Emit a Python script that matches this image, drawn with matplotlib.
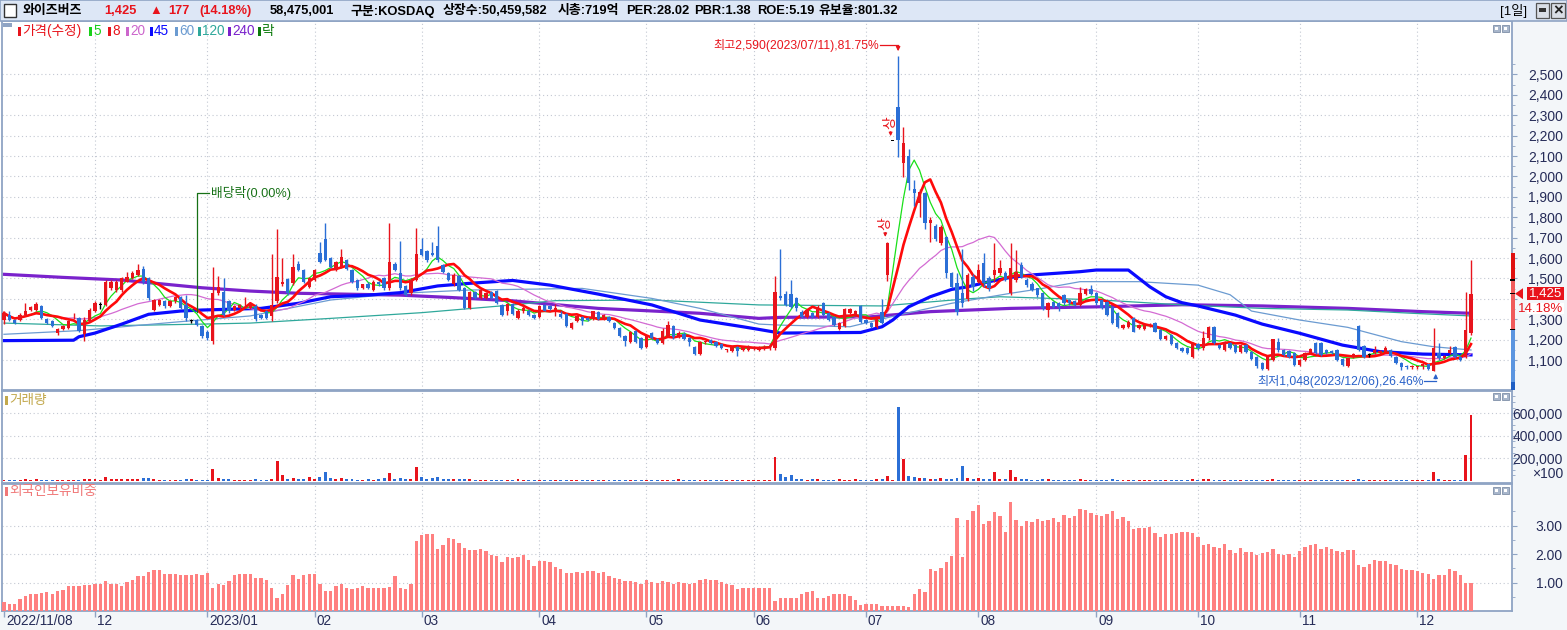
import numpy as np
import pandas as pd
import matplotlib
matplotlib.use('Agg')
import matplotlib.pyplot as plt
from matplotlib.patches import Rectangle, Polygon
from matplotlib.transforms import blended_transform_factory, ScaledTranslation

plt.rcParams['font.family'] = ['Liberation Sans', 'Noto Sans CJK KR', 'DejaVu Sans']

# ---- daily candles, 2022/11/08 .. 2023/12/14 ----
opens = [
    1298, 1322, 1298, 1298, 1322, 1347, 1347, 1363, 1303, 1293,
    1234, 1250, 1258, 1314, 1306, 1226, 1290, 1339, 1371, 1371,
    1452, 1443, 1443, 1484, 1500, 1516, 1548, 1500, 1347, 1371,
    1387, 1363, 1387, 1410, 1371, 1290, 1298, 1266, 1239, 1193,
    1427, 1435, 1387, 1347, 1355, 1363, 1355, 1363, 1320, 1340,
    1314, 1387, 1471, 1496, 1476, 1573, 1540, 1460, 1492, 1626,
    1694, 1601, 1540, 1556, 1589, 1540, 1492, 1452, 1475, 1443,
    1484, 1500, 1452, 1573, 1525, 1464, 1427, 1492, 1645, 1632,
    1625, 1661, 1564, 1527, 1471, 1511, 1452, 1355, 1435, 1406,
    1403, 1435, 1440, 1371, 1338, 1375, 1306, 1338, 1342, 1321,
    1310, 1370, 1364, 1345, 1326, 1326, 1256, 1290, 1313, 1305,
    1302, 1334, 1302, 1310, 1280, 1256, 1220, 1190, 1240, 1210,
    1162, 1233, 1205, 1183, 1220, 1265, 1212, 1228, 1208, 1162,
    1130, 1187, 1198, 1190, 1180, 1150, 1144, 1162, 1149, 1150, 1152,
    1150, 1160, 1158,
    1157, 1414, 1423, 1423, 1402, 1337, 1312, 1329, 1312, 1378,
    1329, 1312, 1250, 1267, 1329, 1321, 1365, 1296, 1280, 1263,
    1337, 1517, 2174, 2341, 2064, 2100, 1936, 1868, 1917, 1770,
    1757, 1672, 1701, 1525, 1476, 1427, 1397, 1509, 1484, 1574,
    1500, 1517, 1525, 1525,
    1427, 1492, 1565, 1492, 1475, 1451, 1427, 1345, 1386, 1378,
    1418, 1394, 1390, 1370, 1425, 1446, 1430, 1394, 1386, 1361,
    1329, 1255, 1263, 1308, 1255, 1253, 1265, 1280, 1247, 1202,
    1222, 1184, 1160, 1157, 1116, 1176, 1157, 1206, 1263, 1174,
    1149, 1184, 1174, 1140, 1174, 1141, 1116, 1084, 1055, 1100,
    1190, 1149, 1144, 1136, 1076, 1100, 1133, 1185, 1185, 1149,
    1146, 1149, 1103, 1072, 1116, 1267, 1169, 1125, 1133, 1133,
    1141, 1149, 1113, 1084, 1072, 1066, 1066, 1070, 1078, 1048,
    1133, 1112, 1133, 1165, 1116, 1116, 1231,
]
highs = [
    1338, 1340, 1300, 1330, 1379, 1365, 1385, 1370, 1306, 1298,
    1255, 1270, 1298, 1330, 1310, 1310, 1355, 1390, 1385, 1490,
    1490, 1490, 1508, 1530, 1535, 1573, 1560, 1505, 1400, 1400,
    1395, 1395, 1415, 1415, 1420, 1300, 1300, 1270, 1245, 1556,
    1510, 1500, 1395, 1370, 1375, 1410, 1385, 1375, 1325, 1345,
    1620, 1742, 1600, 1500, 1620, 1585, 1545, 1505, 1545, 1677,
    1771, 1605, 1585, 1645, 1595, 1545, 1495, 1475, 1480, 1490,
    1488, 1505, 1774, 1580, 1685, 1470, 1500, 1745, 1700, 1640,
    1680, 1755, 1570, 1532, 1525, 1516, 1460, 1440, 1440, 1448,
    1432, 1440, 1445, 1376, 1380, 1380, 1350, 1375, 1350, 1325,
    1370, 1375, 1368, 1375, 1340, 1330, 1287, 1322, 1318, 1310,
    1342, 1340, 1326, 1315, 1285, 1260, 1225, 1240, 1245, 1215,
    1225, 1238, 1210, 1256, 1290, 1270, 1240, 1235, 1212, 1170,
    1192, 1192, 1202, 1195, 1185, 1155, 1168, 1168, 1170, 1172, 1170,
    1170, 1172, 1175,
    1513, 1642, 1440, 1493, 1410, 1345, 1350, 1335, 1370, 1385,
    1335, 1318, 1285, 1355, 1355, 1345, 1372, 1300, 1285, 1312,
    1400, 1680, 2174, 2590, 2240, 2132, 1982, 1940, 1925, 1803,
    1765, 1760, 1710, 1530, 1525, 1642, 1525, 1520, 1570, 1623,
    1510, 1672, 1590, 1535,
    1672, 1640, 1580, 1500, 1480, 1455, 1435, 1385, 1390, 1385,
    1425, 1400, 1395, 1459, 1451, 1470, 1435, 1400, 1390, 1365,
    1335, 1278, 1295, 1312, 1278, 1278, 1280, 1285, 1252, 1222,
    1226, 1188, 1165, 1162, 1188, 1182, 1242, 1268, 1268, 1178,
    1195, 1190, 1180, 1178, 1178, 1146, 1120, 1090, 1120, 1205,
    1210, 1155, 1150, 1140, 1105, 1138, 1160, 1190, 1190, 1155,
    1150, 1155, 1108, 1112, 1133, 1270, 1175, 1133, 1169, 1150,
    1169, 1155, 1118, 1088, 1075, 1075, 1072, 1080, 1082, 1255,
    1182, 1125, 1169, 1170, 1120, 1435, 1590,
]
lows = [
    1275, 1290, 1275, 1290, 1315, 1340, 1340, 1300, 1275, 1260,
    1225, 1245, 1250, 1300, 1235, 1193, 1285, 1335, 1350, 1365,
    1445, 1435, 1435, 1480, 1495, 1510, 1475, 1395, 1340, 1365,
    1355, 1360, 1380, 1350, 1290, 1280, 1265, 1210, 1200, 1180,
    1420, 1315, 1330, 1340, 1350, 1355, 1350, 1290, 1300, 1300,
    1290, 1380, 1465, 1420, 1470, 1535, 1478, 1455, 1488, 1575,
    1585, 1550, 1535, 1550, 1540, 1478, 1445, 1448, 1448, 1438,
    1465, 1445, 1445, 1535, 1445, 1415, 1420, 1488, 1608, 1582,
    1608, 1582, 1528, 1488, 1465, 1438, 1350, 1350, 1398, 1400,
    1398, 1398, 1375, 1318, 1320, 1320, 1300, 1330, 1315, 1300,
    1305, 1338, 1345, 1318, 1305, 1262, 1252, 1285, 1270, 1290,
    1298, 1297, 1298, 1285, 1252, 1212, 1170, 1185, 1183, 1155,
    1158, 1205, 1178, 1178, 1215, 1205, 1208, 1198, 1170, 1125,
    1125, 1180, 1180, 1165, 1152, 1140, 1140, 1120, 1145, 1145, 1148,
    1145, 1150, 1150,
    1150, 1395, 1365, 1355, 1340, 1305, 1308, 1305, 1305, 1315,
    1290, 1268, 1245, 1262, 1325, 1318, 1282, 1275, 1258, 1258,
    1275, 1489, 2174, 2096, 1995, 1933, 1855, 1800, 1740, 1680,
    1685, 1665, 1500, 1455, 1320, 1362, 1390, 1440, 1478, 1460,
    1440, 1484, 1515, 1485,
    1420, 1480, 1500, 1460, 1438, 1410, 1345, 1312, 1355, 1340,
    1372, 1372, 1365, 1365, 1420, 1420, 1370, 1348, 1315, 1275,
    1255, 1250, 1258, 1235, 1250, 1248, 1260, 1235, 1198, 1198,
    1172, 1155, 1138, 1128, 1110, 1150, 1150, 1200, 1176, 1152,
    1145, 1152, 1132, 1135, 1135, 1098, 1060, 1050, 1050, 1095,
    1140, 1120, 1110, 1070, 1070, 1095, 1128, 1128, 1120, 1128,
    1128, 1095, 1070, 1068, 1112, 1145, 1110, 1116, 1128, 1128,
    1135, 1115, 1080, 1050, 1055, 1058, 1055, 1058, 1050, 1048,
    1100, 1105, 1128, 1110, 1095, 1110, 1225,
]
closes = [
    1330, 1298, 1282, 1323, 1339, 1358, 1374, 1306, 1282, 1266,
    1250, 1266, 1293, 1315, 1242, 1298, 1347, 1379, 1371, 1484,
    1484, 1484, 1500, 1508, 1525, 1540, 1484, 1403, 1395, 1395,
    1363, 1387, 1410, 1355, 1306, 1290, 1274, 1218, 1206, 1427,
    1460, 1322, 1339, 1363, 1371, 1364, 1379, 1300, 1306, 1306,
    1371, 1508, 1484, 1427, 1556, 1540, 1484, 1500, 1540, 1580,
    1589, 1556, 1580, 1605, 1545, 1484, 1452, 1471, 1452, 1484,
    1471, 1452, 1580, 1540, 1452, 1419, 1492, 1621, 1613, 1589,
    1613, 1589, 1532, 1492, 1516, 1443, 1355, 1435, 1403, 1443,
    1427, 1403, 1379, 1322, 1375, 1326, 1342, 1355, 1321, 1305,
    1364, 1342, 1351, 1354, 1310, 1269, 1282, 1318, 1290, 1295,
    1338, 1302, 1321, 1293, 1256, 1216, 1195, 1235, 1188, 1160,
    1220, 1208, 1183, 1244, 1270, 1212, 1230, 1203, 1190, 1130,
    1187, 1188, 1185, 1170, 1157, 1151, 1162, 1144, 1165, 1167, 1165,
    1160, 1165, 1170,
    1435, 1402, 1370, 1362, 1353, 1312, 1345, 1310, 1362, 1321,
    1296, 1272, 1280, 1349, 1349, 1341, 1288, 1280, 1263, 1308,
    1280, 1672, 2174, 2178, 2162, 1969, 1917, 1925, 1770, 1786,
    1691, 1754, 1525, 1459, 1337, 1378, 1517, 1459, 1541, 1476,
    1451, 1541, 1549, 1492,
    1549, 1533, 1508, 1467, 1443, 1418, 1353, 1378, 1361, 1361,
    1378, 1378, 1370, 1430, 1446, 1425, 1378, 1353, 1320, 1280,
    1260, 1272, 1288, 1239, 1272, 1272, 1272, 1239, 1202, 1218,
    1178, 1160, 1142, 1133, 1182, 1157, 1206, 1263, 1182, 1157,
    1190, 1157, 1137, 1174, 1140, 1103, 1070, 1055, 1116, 1201,
    1149, 1125, 1116, 1076, 1100, 1133, 1153, 1133, 1125, 1133,
    1133, 1100, 1076, 1108, 1129, 1149, 1116, 1125, 1149, 1144,
    1157, 1120, 1084, 1064, 1068, 1072, 1070, 1078, 1057, 1157,
    1108, 1120, 1149, 1116, 1100, 1248, 1425,
]

# volume, thousand shares
volume_k = [
    900, 700, 600, 800, 1500, 1100, 1300, 1000, 700, 600,
    500, 600, 700, 500, 900, 1200, 1400,
    # Dec
    1300, 900, 3000, 1800, 1500, 2000, 1600, 1900, 1400, 2500,
    2200, 1600, 1000, 900, 800, 1000, 900, 1200, 1400, 800, 700,
    # Jan
    900, 10500, 2600, 1800, 1200, 900, 800, 1100, 900, 1600,
    1000, 900, 1400, 17600, 5200, 2000, 2600, 1400, 1600, 3000,
    # Feb
    1500, 3000, 7800, 2200, 1500, 2400, 1500, 1200, 1000, 900,
    1200, 900, 1300, 2400, 7000, 2000, 2600, 1500, 1800, 12300,
    # Mar
    3000, 2000, 2800, 3500, 1500, 1200, 1400, 1200, 1600, 1200, 1100,
    900, 1000, 800, 900, 1000, 800, 900, 1200, 800, 900, 700,
    # Apr
    800, 700, 1000, 600, 700, 900, 600, 800, 700, 600,
    900, 600, 700, 600, 800, 700, 900, 1000, 800, 700,
    # May
    700, 900, 600, 700, 600, 1100, 1200, 800, 600, 700,
    600, 900, 1000, 500, 600, 500, 700, 600, 500, 600,
    # Jun
    500, 600, 500, 700, 21200, 6000, 3000, 5000, 1500, 1200, 1000,
    1400, 1200, 900, 1000, 800, 1500, 1000, 900, 1200, 800,
    # Jul
    700, 900, 2000, 1800, 4000, 800, 65500, 19400, 4200, 3500, 2600,
    2200, 1800, 2000, 2400, 1600, 2000, 2600, 13200, 2500, 1800,
    # Aug
    2200, 1500, 1400, 7800, 2000, 1500, 9600, 3000, 1800, 1200, 1000,
    1100, 1600, 1200, 800, 900, 700, 600, 700, 1500, 900, 800,
    # Sep
    800, 900, 1000, 1200, 1100, 700, 800, 900, 600, 700,
    600, 700, 900, 600, 800, 700, 800, 900, 1200,
    # Oct
    1000, 1500, 1300, 900, 700, 800, 700, 600, 700, 600,
    900, 1000, 900, 1000, 1600, 1100, 700, 600, 800,
    # Nov
    700, 800, 900, 1000, 800, 600, 500, 700, 600, 500, 600,
    1400, 900, 500, 600, 500, 600, 500, 600, 700, 500, 500,
    # Dec
    400, 500, 600, 7800, 1500, 800, 900, 800, 700, 23000, 58475,
]

# foreign ownership, %
foreign_pct = [
    0.32, 0.26, 0.26, 0.41, 0.52, 0.59, 0.59, 0.64, 0.67, 0.61,
    0.70, 0.73, 0.87, 0.87, 0.87, 0.90, 0.90, 0.96, 0.93, 1.05,
    0.94, 0.94, 0.87, 1.01, 1.10, 1.22, 1.22, 1.36, 1.43, 1.43,
    1.31, 1.29, 1.29, 1.26, 1.26, 1.26, 1.29, 1.26, 1.34, 0.82,
    0.94, 0.90, 1.06, 1.26, 1.29, 1.29, 1.29, 1.15, 1.15, 1.08,
    0.82, 0.46, 0.61, 0.90, 1.26, 1.12, 1.26, 1.29, 1.29, 0.94,
    0.70, 0.70, 0.87, 0.96, 0.81, 0.78, 0.81, 0.87, 0.81, 0.82,
    0.82, 0.82, 0.85, 1.22, 0.80, 0.77, 0.96, 2.45, 2.66, 2.70,
    2.70, 2.18, 2.32, 2.55, 2.52, 2.39, 2.22, 2.15, 2.13, 2.19,
    2.09, 1.98, 1.92, 1.71, 1.89, 1.85, 1.89, 1.98, 1.79, 1.59,
    1.77, 1.77, 1.71, 1.56,
    1.46, 1.34, 1.34, 1.38, 1.34, 1.41, 1.41, 1.34, 1.38, 1.22,
    1.15, 1.12, 1.06, 1.06, 1.03, 0.95, 1.09, 1.02, 0.98, 1.06,
    1.03, 0.95, 1.03, 1.00, 0.95, 1.00, 1.09, 1.12, 1.09, 1.09,
    1.02, 0.95, 0.91, 0.77, 0.81, 0.81, 0.81, 0.81, 0.81, 0.81,
    0.35, 0.47, 0.44, 0.47, 0.47, 0.60, 0.68, 0.71, 0.47, 0.44,
    0.51, 0.58, 0.60, 0.58, 0.51, 0.40, 0.22, 0.26, 0.26, 0.26,
    0.16, 0.16, 0.16, 0.16, 0.16, 0.13, 0.60, 0.77, 0.68, 1.46,
    1.41, 1.51, 1.72, 1.92, 3.25, 1.89, 3.19, 3.52, 3.72, 3.07,
    3.17, 3.48, 3.35, 2.78, 3.83, 3.19, 2.99, 3.15, 3.13, 3.22,
    3.17, 3.19, 3.27, 3.13,
    3.38, 3.27, 3.35, 3.58, 3.56, 3.44, 3.38, 3.35, 3.42, 3.52,
    3.24, 3.30, 3.17, 2.86, 2.92, 2.92, 2.95, 2.72, 2.60, 2.69,
    2.69, 2.72, 2.78, 2.78, 2.72, 2.60, 2.30, 2.34, 2.26, 2.22,
    2.34, 2.13, 2.02, 2.20, 2.07, 2.07, 1.95, 2.02, 2.07, 2.19,
    1.99, 1.95, 1.99, 1.91, 2.10, 2.26, 2.30, 2.34, 2.19, 2.26,
    2.19, 2.09, 2.07, 2.13, 2.13, 1.60, 1.56, 1.64, 1.78, 1.76,
    1.76, 1.64, 1.60, 1.49, 1.44, 1.44, 1.41, 1.33, 1.29, 1.12,
    1.26, 1.26, 1.47, 1.41, 1.26, 1.00, 1.00,
]

# long moving averages, read at sample days (day index, price)
ma45_idx = [0, 13, 14, 17, 22, 27, 33, 37, 48, 55, 61, 68, 74, 81, 87, 95, 102, 111, 121, 130,
            138, 141, 145, 160, 164, 166, 169, 173, 177, 180, 184, 188, 192, 201, 204, 210, 214,
            217, 220, 223, 230, 235, 242, 250, 257, 265, 274]
ma45_val = [1195, 1197, 1214, 1232, 1276, 1324, 1340, 1345, 1353, 1378, 1410, 1418, 1430, 1463, 1476,
            1490, 1467, 1423, 1370, 1296, 1263, 1250, 1232, 1235, 1263, 1296, 1361, 1410, 1446, 1459,
            1484, 1505, 1517, 1533, 1541, 1541, 1459, 1410, 1381, 1365, 1320, 1276, 1231, 1173, 1141,
            1129, 1125]
ma60_idx = [0, 14, 33, 46, 61, 74, 87, 95, 108, 121, 130, 141, 145, 158, 167, 177, 188, 194, 201,
            212, 223, 229, 233, 242, 251, 261, 267, 274]
ma60_val = [1226, 1244, 1288, 1316, 1394, 1427, 1443, 1446, 1451, 1402, 1353, 1276, 1271, 1263, 1320,
            1378, 1427, 1451, 1484, 1484, 1467, 1420, 1340, 1296, 1260, 1190, 1165, 1149]
ma120_idx = [0, 18, 37, 46, 61, 78, 95, 103, 121, 141, 164, 180, 186, 205, 220, 235, 251, 263, 274]
ma120_val = [1281, 1267, 1276, 1281, 1304, 1332, 1370, 1391, 1394, 1370, 1365, 1400, 1410, 1394, 1370,
             1353, 1345, 1329, 1316]
ma240_idx = [0, 11, 22, 37, 46, 55, 74, 83, 95, 111, 130, 141, 145, 162, 173, 188, 205, 220, 235,
             251, 265, 274]
ma240_val = [1520, 1505, 1492, 1454, 1438, 1427, 1418, 1407, 1390, 1353, 1329, 1304, 1309, 1312, 1337,
             1353, 1361, 1371, 1365, 1353, 1337, 1329]

month_start = [0, 17, 38, 58, 78, 100, 120, 140, 161, 182, 204, 223, 242, 264]
month_labels = ['2022/11/08', '12', '2023/01', '02', '03', '04', '05', '06', '07', '08', '09',
                '10', '11', '12']
ex_div_idx = 36
limit_up_days = [165, 166]
legend_names = ['가격(수정)', '5', '8', '20', '45', '60', '120', '240', '락']

# ---------------------------------------------------------------------------
W, H = 1567, 630
X0, DX = 4.0, 5.354          # pixel of first day, pixels per day
PPX = 100 / 20.4             # price per pixel
RED = '#e8141c'
BLUE = '#2b6fd6'
NAVY = '#262c58'
BORDER = '#8fa4c4'
GRID = '#c3c8d2'
DOT = (0, (1, 2.5))

o = np.array(opens, float)
h = np.array(highs, float)
l = np.array(lows, float)
c = np.array(closes, float)
n = len(c)
idx = np.arange(n)

s = pd.Series(c)
ma5 = s.rolling(5, min_periods=1).mean()
ma8 = s.rolling(8, min_periods=1).mean()
ma20 = s.rolling(20, min_periods=1).mean()

fig = plt.figure(figsize=(W / 100, H / 100), dpi=100)
fig.patch.set_facecolor('white')


def fx(x):
    return x / W


def fy(y):
    return 1 - y / H


def frect(x, y, w, hh, **kw):
    fig.add_artist(Rectangle((fx(x), fy(y + hh)), w / W, hh / H, transform=fig.transFigure, **kw))


def ftext(x, y, t, **kw):
    fig.text(fx(x), fy(y), t, **kw)


# pale strips (right axis, date axis)
frect(1512, 21, 55, 590, facecolor='#f3f6f9', edgecolor='none', zorder=-5)
frect(0, 611, W, 19, facecolor='#f3f6f9', edgecolor='none', zorder=-5)


def panel(top, bottom):
    ax = fig.add_axes([fx(2), fy(bottom), (1512 - 2) / W, (bottom - top) / H])
    ax.set_xlim((2 - X0) / DX, (1512 - X0) / DX)
    ax.set_facecolor('white')
    for sp in ax.spines.values():
        sp.set_color(BORDER)
        sp.set_linewidth(1.3)
    ax.tick_params(axis='x', bottom=False, labelbottom=False)
    ax.yaxis.tick_right()
    ax.tick_params(axis='y', which='both', direction='out', colors=BORDER,
                   labelcolor=NAVY, labelsize=10)
    ax.tick_params(axis='y', which='major', length=3.6, pad=33)
    ax.tick_params(axis='y', which='minor', length=2.2)
    for t in month_start[1:]:
        ax.axvline(t, color=GRID, lw=0.8, ls=DOT, zorder=0)
    return ax


def right_labels(ax, ticks, labels):
    ax.set_yticks(ticks)
    ax.set_yticklabels(labels)
    for lab in ax.get_yticklabels():
        lab.set_horizontalalignment('right')
    ax.yaxis.grid(True, color=GRID, lw=0.8, ls=DOT, zorder=0)


last, prev = c[-1], c[-2]

# ---------------- price panel ----------------
ax_p = panel(21, 390)
ax_p.set_ylim(1100 - 30 * PPX, 1100 + 339 * PPX)
pt = list(range(1100, 2501, 100))
# the current-price badge sits over the label nearest the last close
right_labels(ax_p, pt, ['' if abs(v - last) < 50 else f'{v:,}' for v in pt])
ax_p.set_yticks(list(range(1050, 2600, 100)), minor=True)

ax_p.plot(ma240_idx, ma240_val, color='#7a22cc', lw=2.3, zorder=2)
ax_p.plot(ma120_idx, ma120_val, color='#2fa89b', lw=0.9, zorder=2)
ax_p.plot(ma60_idx, ma60_val, color='#6b9bd1', lw=0.9, zorder=2)
ax_p.plot(ma45_idx, ma45_val, color='#0a0aff', lw=2.3, zorder=2)
ax_p.plot(idx, ma20, color='#d36bd3', lw=0.9, zorder=2)
ax_p.plot(idx, ma5, color='#19e019', lw=0.9, zorder=3)
ax_p.plot(idx, ma8, color='#ff0a0a', lw=1.9, zorder=3)

ccol = np.where(c > o, RED, np.where(c < o, BLUE, 'black'))
ax_p.vlines(idx, l, h, colors=ccol, lw=1.0, zorder=5)
body_lo = np.minimum(o, c)
body_h = np.maximum(np.abs(c - o), 4)
ax_p.bar(idx, body_h, bottom=body_lo, width=0.62, color=ccol, lw=0, zorder=6)

# high / low annotations
i_hi = int(np.argmax(h))
i_lo = int(np.argmin(l))
y_hi = 1100 + 315 * PPX
ax_p.text(i_hi - 3.6, y_hi, f'최고{int(h[i_hi]):,}(2023/07/11),{(h[i_hi] - last) / last * 100:.2f}%',
          color=RED, fontsize=8.7, ha='right', va='center', zorder=8)
ax_p.plot([i_hi - 3.4, i_hi], [y_hi, y_hi], color=RED, lw=0.9, zorder=8)
ax_p.annotate('', xy=(i_hi, y_hi - 9 * PPX), xytext=(i_hi, y_hi + 0.5 * PPX),
              arrowprops=dict(arrowstyle='-|>', color=RED, lw=0.9, mutation_scale=6), zorder=8)
y_lo = 1100 - 21 * PPX
ax_p.text(i_lo - 1.9, y_lo, f'최저{int(l[i_lo]):,}(2023/12/06),{(last - l[i_lo]) / last * 100:.2f}%',
          color='#2a62c9', fontsize=8.7, ha='right', va='center', zorder=8)
ax_p.plot([i_lo - 1.8, i_lo + 0.4], [y_lo, y_lo], color='#2a62c9', lw=0.9, zorder=8)
ax_p.annotate('', xy=(i_lo + 0.4, y_lo + 10 * PPX), xytext=(i_lo + 0.4, y_lo - 0.5 * PPX),
              arrowprops=dict(arrowstyle='-|>', color='#2a62c9', lw=0.9, mutation_scale=6), zorder=8)

# ex-dividend marker
y_div = 1100 + 167 * PPX
ax_p.plot([ex_div_idx, ex_div_idx, ex_div_idx + 2.2], [h[ex_div_idx] + 35, y_div, y_div],
          color='#167016', lw=0.9, zorder=8)
ax_p.text(ex_div_idx + 2.6, y_div, '배당락(0.00%)', color='#167016', fontsize=9.2,
          ha='left', va='center', zorder=8)

# upper-limit marks
for k in limit_up_days:
    yy = h[k] + 12 * PPX
    ax_p.text(k - 0.4, yy, '상', color=RED, fontsize=10, rotation=90, ha='center', va='bottom', zorder=8)
    ax_p.annotate('', xy=(k - 0.4, h[k] + 2 * PPX), xytext=(k - 0.4, yy),
                  arrowprops=dict(arrowstyle='-|>', color=RED, lw=0.8, mutation_scale=5), zorder=8)

# right-side price badge and range strip
tr = blended_transform_factory(ax_p.transAxes, ax_p.transData)


def axfrac(px):
    return (px - 2) / 1510


up_lim = prev * 1.3
strip = [(up_lim, 1492, '#e01010'), (1492, prev, '#f05a5a'), (prev, 992, '#5b95e0'),
         (992, 953, '#1f5fc4')]
for top, bot, col in strip:
    ax_p.add_patch(Rectangle((axfrac(1511), bot), 3.5 / 1510, top - bot, transform=tr,
                             facecolor=col, edgecolor='none', clip_on=False, zorder=7))
for yy in [1492, last, prev]:
    ax_p.add_patch(Rectangle((axfrac(1510), yy - 0.6 * PPX), 5 / 1510, 1.2 * PPX, transform=tr,
                             facecolor='black', edgecolor='none', clip_on=False, zorder=8))
ax_p.add_patch(Polygon([(axfrac(1515), last), (axfrac(1523), last + 5.5 * PPX),
                        (axfrac(1523), last - 5.5 * PPX)], closed=True, transform=tr,
                       facecolor=RED, edgecolor='none', clip_on=False, zorder=8))
ax_p.add_patch(Rectangle((axfrac(1527), last - 6.0 * PPX), 37 / 1510, 13 * PPX, transform=tr,
                         facecolor=RED, edgecolor='none', clip_on=False, zorder=8))
ax_p.text(axfrac(1562), last + 0.5 * PPX, f'{int(last):,}', transform=tr, color='white',
          fontsize=9.5, ha='right', va='center', clip_on=False, zorder=9)
ax_p.add_patch(Rectangle((axfrac(1527), last - 20.5 * PPX), 37 / 1510, 11.5 * PPX, transform=tr,
                         facecolor='white', edgecolor='none', clip_on=False, zorder=8))
ax_p.text(axfrac(1563), last - 14.8 * PPX, f'{(last - prev) / prev * 100:.2f}%', transform=tr,
          color=RED, fontsize=9.5, ha='right', va='center', clip_on=False, zorder=9)

# ---------------- volume panel ----------------
ax_v = panel(391, 483)
ax_v.set_ylim(-2.2 / 22.5 * 200000, 89.8 / 22.5 * 200000)
vt = [200000, 400000, 600000]
right_labels(ax_v, vt, [f'{v:,}' for v in vt])
ax_v.set_yticks(list(range(50000, 800000, 50000)), minor=True)
vol = np.array(volume_k, float) * 10      # shown in units of 100 shares
vcol = np.where(c >= o, RED, BLUE)
ax_v.bar(idx, vol, width=0.55, color=vcol, lw=0, zorder=3)
ftext(1563, 474.5, '×100', color=NAVY, fontsize=10, ha='right', va='center')

# ---------------- foreign ownership panel ----------------
ax_f = panel(484, 611)
ax_f.set_ylim(0, 127 / 28.5)
right_labels(ax_f, [1, 2, 3], ['1.00', '2.00', '3.00'])
ax_f.set_yticks([0.5, 1.5, 2.5, 3.5], minor=True)
ax_f.bar(idx, foreign_pct, width=0.62, color='#ff8080', lw=0, zorder=3)

ax_f.set_xticks(month_start)
ax_f.tick_params(axis='x', bottom=True, direction='out', length=4.5, width=1, color=BORDER,
                 labelbottom=False)
dtr = blended_transform_factory(ax_f.transData, ax_f.transAxes) + \
    ScaledTranslation(2 / 100, -10 / 100, fig.dpi_scale_trans)
for t, lab in zip(month_start, month_labels):
    ax_f.text(t, 0, lab, transform=dtr, color=NAVY, fontsize=9.8, ha='left', va='center',
              clip_on=False)

# ---------------- header bar ----------------
frect(0, 0, W, 21, facecolor='#dde7f6', edgecolor=BORDER, lw=1.2, zorder=1)
frect(4, 4, 12, 13, facecolor='white', edgecolor='#333333', lw=1.0, zorder=2)
hdr = [(23, '와이즈버즈', 'black'), (104, '1,425', RED), (149, '▲', RED), (168, '177', RED),
       (199, '(14.18%)', RED), (270, '58,475,001', 'black'), (350, '구분:KOSDAQ', 'black'),
       (443, '상장수:50,459,582', 'black'), (558, '시총:719억', 'black'),
       (626, 'PER:28.02', 'black'), (694, 'PBR:1.38', 'black'), (757, 'ROE:5.19', 'black'),
       (818, '유보율:801.32', 'black')]
for x, t, col in hdr:
    ftext(x, 11, t, color=col, fontsize=9.3, fontweight='bold', ha='left', va='center', zorder=3)
ftext(1500, 11, '[1일]', color='black', fontsize=9.5, ha='left', va='center', zorder=3)
frect(1536, 3, 13, 15, facecolor='#d9dee6', edgecolor='#555555', lw=0.9, zorder=2)
frect(1539, 8, 7, 4, facecolor='#333333', edgecolor='none', zorder=3)
frect(1551, 3, 14, 15, facecolor='#d9dee6', edgecolor='#555555', lw=0.9, zorder=2)
ftext(1558, 10.5, '×', color='#222222', fontsize=12, fontweight='bold', ha='center', va='center',
      zorder=3)

# panel buttons
for yb in [25, 393, 487]:
    for xb in [1493, 1502]:
        frect(xb, yb, 7, 7, facecolor='#a8b6cb', edgecolor='#7f8fa8', lw=0.6, zorder=4)
        frect(xb + 2, yb + 2, 3, 3, facecolor='white', edgecolor='none', zorder=5)

# ---------------- legends ----------------
frect(3, 23, 9, 4, facecolor=BORDER, edgecolor='none', zorder=4)
legend_colors = [RED, '#19d019', RED, '#cc66cc', '#0a0aff', '#6b9bd1', '#2fa89b', '#7a22cc', '#0b7a0b']
legend_x = [18, 89, 108, 126, 150, 175, 198, 228, 258]
for x, name, col in zip(legend_x, legend_names, legend_colors):
    frect(x, 27, 3, 9, facecolor=col, edgecolor='none', zorder=4)
    ftext(x + 4, 31, name, color=col, fontsize=9.8, ha='left', va='center', zorder=4)

frect(5, 396, 3, 9, facecolor='#c2a84c', edgecolor='none', zorder=4)
ftext(9, 400, '거래량', color='#c2a84c', fontsize=9.8, ha='left', va='center', zorder=4)
frect(5, 487, 3, 9, facecolor='#f07878', edgecolor='none', zorder=4)
ftext(9, 491, '외국인보유비중', color='#f07878', fontsize=9.8, ha='left', va='center', zorder=4)

fig.savefig('out.png', dpi=100)
